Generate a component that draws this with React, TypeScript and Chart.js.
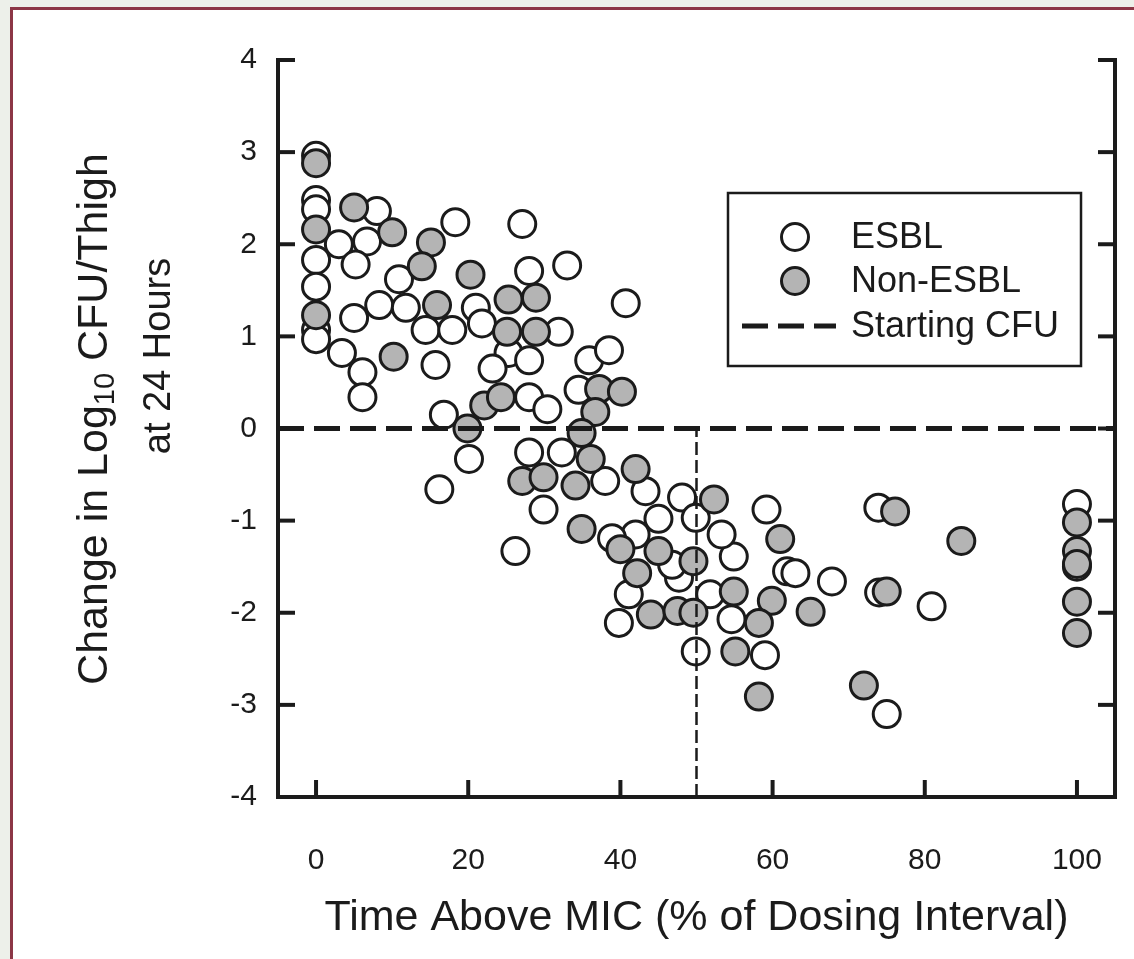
import React, { useEffect, useRef } from 'react';
import { Chart, registerables } from 'chart.js';

Chart.register(...registerables);

// ---- data ----
const esblPoints: [number, number][] = [
  [0, 2.96], [0, 2.48], [0, 2.38], [0, 1.83], [0, 1.54], [0, 1.07], [0, 0.97],
  [3.0, 2.0], [6.7, 2.03], [8.0, 2.36], [5.2, 1.78], [10.9, 1.62], [8.3, 1.34], [5.0, 1.2],
  [11.8, 1.31], [3.4, 0.82], [6.1, 0.61], [6.1, 0.34], [15.7, 0.69], [14.4, 1.07], [17.9, 1.07],
  [18.3, 2.24], [21.0, 1.31], [21.8, 1.14], [27.1, 2.22], [28.0, 1.71], [33.0, 1.77], [40.7, 1.36],
  [31.9, 1.05], [25.3, 0.82], [28.0, 0.74], [23.2, 0.65], [35.9, 0.74], [38.5, 0.85], [28.0, 0.34],
  [30.4, 0.21], [16.8, 0.15], [34.5, 0.42], [20.1, -0.33], [16.2, -0.66], [26.2, -1.33], [28.0, -0.26],
  [32.3, -0.26], [38.0, -0.57], [29.9, -0.88], [43.3, -0.68], [45.0, -0.98], [48.1, -0.75], [42.0, -1.15],
  [49.9, -0.97], [54.9, -1.39], [47.7, -1.62], [41.1, -1.8], [39.8, -2.11], [54.6, -2.07], [49.9, -2.42],
  [59.0, -2.46], [59.2, -0.88], [61.9, -1.55], [63.0, -1.57], [67.8, -1.66], [73.9, -0.86], [74.0, -1.78],
  [80.9, -1.93], [75.0, -3.1], [100, -0.82], [100, -1.5], [38.9, -1.19], [46.8, -1.48], [53.3, -1.15],
  [51.8, -1.8],
];

const nonEsblPoints: [number, number][] = [
  [0, 2.88], [0, 2.16], [0, 1.23], [5.0, 2.4], [10.0, 2.13], [15.1, 2.02], [13.9, 1.76], [20.3, 1.67],
  [15.9, 1.34], [10.2, 0.78], [25.3, 1.4], [28.9, 1.42], [25.1, 1.05], [28.9, 1.05], [22.1, 0.25],
  [24.3, 0.34], [19.9, 0.0], [37.2, 0.43], [40.2, 0.4], [36.7, 0.18], [34.9, -0.05], [36.1, -0.33],
  [27.1, -0.57], [29.9, -0.53], [34.1, -0.62], [42.0, -0.44], [34.9, -1.09], [40.0, -1.31], [45.0, -1.33],
  [42.2, -1.57], [44.0, -2.02], [47.5, -1.98], [49.6, -1.44], [49.6, -2.0], [52.3, -0.77], [61.0, -1.2],
  [54.9, -1.77], [59.9, -1.87], [65.0, -1.99], [58.2, -2.11], [55.1, -2.42], [58.2, -2.91], [76.1, -0.9],
  [84.8, -1.22], [75.0, -1.77], [72.0, -2.79], [100, -1.02], [100, -1.33], [100, -1.47], [100, -1.88],
  [100, -2.22],
];

const xTicks = [0, 20, 40, 60, 80, 100];
const yTicks = [-4, -3, -2, -1, 0, 1, 2, 3, 4];
const xRange = [-5, 105];
const yRange = [-4, 4];
const startingCfuLevel = 0;
const breakpointX = 50;

const seriesLabels = ['ESBL', 'Non-ESBL', 'Starting CFU'];
const xTitle = 'Time Above MIC (% of Dosing Interval)';
const yTitleParts = ['Change in Log', '10', ' CFU/Thigh'];
const yTitleLine2 = 'at 24 Hours';

const FONT = '"Liberation Sans", Arial, Helvetica, sans-serif';
const INK = '#1b1b1b';

const decorPlugin = {
  id: 'decor',
  afterDraw(chart: any) {
    const { ctx, chartArea: a, scales } = chart;
    const x = scales.x;
    const y = scales.y;
    ctx.save();
    ctx.strokeStyle = INK;
    ctx.lineCap = 'butt';
    const seg = (x1: number, y1: number, x2: number, y2: number, w: number) => {
      ctx.lineWidth = w;
      ctx.beginPath();
      ctx.moveTo(x1, y1);
      ctx.lineTo(x2, y2);
      ctx.stroke();
    };
    // right axis
    seg(a.right, a.top - 2, a.right, a.bottom + 2, 4);
    // inward ticks
    const tl = 17;
    for (const v of yTicks) {
      const py = y.getPixelForValue(v);
      seg(a.left, py, a.left + tl, py, 4);
      seg(a.right - tl, py, a.right, py, 4);
    }
    for (const v of xTicks) {
      const px = x.getPixelForValue(v);
      seg(px, a.bottom, px, a.bottom - tl, 4);
    }

    // y-axis title (two rotated lines, with subscript)
    ctx.fillStyle = INK;
    ctx.textBaseline = 'middle';
    ctx.textAlign = 'left';
    const big = `43px ${FONT}`;
    const small = `29px ${FONT}`;
    ctx.save();
    ctx.translate(95, 419);
    ctx.rotate(-Math.PI / 2);
    ctx.font = big;
    const w1 = ctx.measureText(yTitleParts[0]).width;
    const w3 = ctx.measureText(yTitleParts[2]).width;
    ctx.font = small;
    const w2 = ctx.measureText(yTitleParts[1]).width;
    let cx = -(w1 + w2 + w3) / 2;
    ctx.font = big;
    ctx.fillText(yTitleParts[0], cx, 0);
    cx += w1;
    ctx.font = small;
    ctx.fillText(yTitleParts[1], cx, 11);
    cx += w2;
    ctx.font = big;
    ctx.fillText(yTitleParts[2], cx, 0);
    ctx.restore();
    ctx.save();
    ctx.translate(160, 356);
    ctx.rotate(-Math.PI / 2);
    ctx.font = `38px ${FONT}`;
    ctx.textAlign = 'center';
    ctx.fillText(yTitleLine2, 0, 0);
    ctx.restore();

    // legend box
    const ds = chart.data.datasets;
    const bx = 728, by = 193, bw = 353, bh = 173;
    ctx.fillStyle = '#ffffff';
    ctx.fillRect(bx, by, bw, bh);
    ctx.lineWidth = 2.5;
    ctx.strokeStyle = INK;
    ctx.strokeRect(bx, by, bw, bh);
    const rows = [237, 281, 326];
    const order = [0, 1, 2];
    ctx.font = `36px ${FONT}`;
    ctx.textAlign = 'left';
    ctx.textBaseline = 'middle';
    order.forEach((di, i) => {
      const d = ds[di];
      const ry = rows[i];
      if (d.showLine) {
        ctx.save();
        ctx.strokeStyle = d.borderColor;
        ctx.lineWidth = d.borderWidth;
        ctx.setLineDash(d.borderDash);
        ctx.beginPath();
        ctx.moveTo(742, ry);
        ctx.lineTo(836, ry);
        ctx.stroke();
        ctx.restore();
      } else {
        ctx.beginPath();
        ctx.arc(795, ry, 13.5, 0, Math.PI * 2);
        ctx.fillStyle = d.backgroundColor;
        ctx.fill();
        ctx.lineWidth = d.borderWidth;
        ctx.strokeStyle = d.borderColor;
        ctx.stroke();
      }
      ctx.fillStyle = INK;
      ctx.fillText(d.label, 851, ry + 1);
    });
    ctx.restore();
  },
};

export default function App() {
  const ref = useRef<HTMLCanvasElement | null>(null);

  useEffect(() => {
    const canvas = ref.current;
    if (!canvas) return;
    const chart = new Chart(canvas, {
      type: 'scatter',
      data: {
        datasets: [
          {
            label: seriesLabels[0],
            data: esblPoints.map(([px, py]) => ({ x: px, y: py })),
            backgroundColor: '#ffffff',
            borderColor: INK,
            borderWidth: 3,
            pointRadius: 13.5,
            pointHoverRadius: 13.5,
            order: 3,
          },
          {
            label: seriesLabels[1],
            data: nonEsblPoints.map(([px, py]) => ({ x: px, y: py })),
            backgroundColor: '#b4b4b4',
            borderColor: INK,
            borderWidth: 3,
            pointRadius: 13.5,
            pointHoverRadius: 13.5,
            order: 2,
          },
          {
            label: seriesLabels[2],
            data: [
              { x: xRange[0], y: startingCfuLevel },
              { x: xRange[1], y: startingCfuLevel },
            ],
            showLine: true,
            borderColor: INK,
            borderWidth: 5,
            borderDash: [26, 10],
            pointRadius: 0,
            fill: false,
            order: 1,
          },
          {
            label: 'breakpoint',
            data: [
              { x: breakpointX, y: yRange[0] },
              { x: breakpointX, y: startingCfuLevel },
            ],
            showLine: true,
            borderColor: INK,
            borderWidth: 2.5,
            borderDash: [13, 5],
            pointRadius: 0,
            fill: false,
            order: 0,
          },
        ],
      },
      options: {
        animation: false,
        responsive: false,
        maintainAspectRatio: false,
        events: [],
        layout: { padding: { top: 60, right: 19, left: 0, bottom: 0 } },
        plugins: {
          legend: { display: false },
          tooltip: { enabled: false },
        },
        scales: {
          x: {
            type: 'linear',
            min: xRange[0],
            max: xRange[1],
            afterFit: (s: any) => {
              s.height = 162;
              s.paddingLeft = 0;
              s.paddingRight = 0;
            },
            afterBuildTicks: (s: any) => {
              s.ticks = xTicks.map((v) => ({ value: v }));
            },
            grid: { display: false, drawTicks: false },
            border: { display: true, color: INK, width: 4 },
            ticks: {
              padding: 46,
              color: INK,
              font: { family: FONT, size: 30 },
              maxRotation: 0,
              autoSkip: false,
            },
            title: {
              display: true,
              text: xTitle,
              color: INK,
              font: { family: FONT, size: 43 },
              padding: { top: 0, bottom: 15 },
            },
          },
          y: {
            type: 'linear',
            min: yRange[0],
            max: yRange[1],
            afterFit: (s: any) => {
              s.width = 278;
              s.paddingTop = 0;
              s.paddingBottom = 0;
            },
            afterBuildTicks: (s: any) => {
              s.ticks = yTicks.map((v) => ({ value: v }));
            },
            grid: { display: false, drawTicks: false },
            border: { display: true, color: INK, width: 4 },
            ticks: {
              padding: 21,
              color: INK,
              font: { family: FONT, size: 30 },
              autoSkip: false,
              callback: (v: any) => String(v),
            },
          },
        },
      },
      plugins: [decorPlugin],
    });
    return () => chart.destroy();
  }, []);

  return (
    <div
      style={{
        position: 'absolute',
        left: 0,
        top: 0,
        width: 1134,
        height: 959,
        background: '#edf0ea',
        overflow: 'hidden',
      }}
    >
      <div
        style={{
          position: 'absolute',
          left: 10,
          top: 7,
          width: 1200,
          height: 1000,
          background: '#ffffff',
          borderTop: '3px solid #8c3646',
          borderLeft: '3px solid #8c3646',
        }}
      />
      <canvas
        ref={ref}
        width={1134}
        height={959}
        style={{ position: 'absolute', left: 0, top: 0, width: 1134, height: 959 }}
      />
    </div>
  );
}
